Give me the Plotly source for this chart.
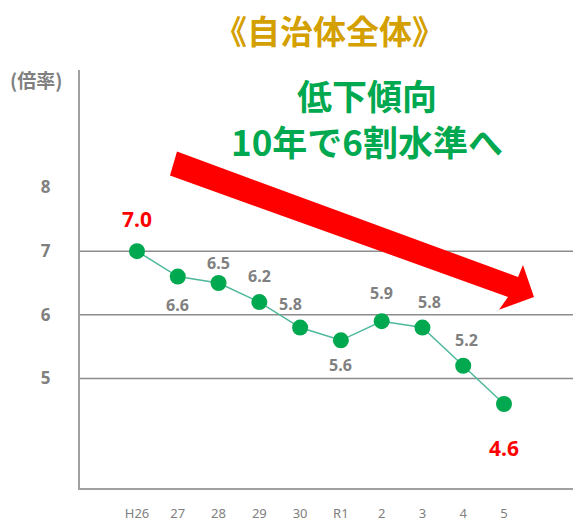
import plotly.graph_objects as go

categories = ["H26", "27", "28", "29", "30", "R1", "2", "3", "4", "5"]
values = [7.0, 6.6, 6.5, 6.2, 5.8, 5.6, 5.9, 5.8, 5.2, 4.6]
labels = ["7.0", "6.6", "6.5", "6.2", "5.8", "5.6", "5.9", "5.8", "5.2", "4.6"]
y_ticks = [5, 6, 7, 8]
grid_values = [5, 6, 7]

title_text = "《自治体全体》"
unit_text = "(倍率)"
callout_lines = ["低下傾向", "10年で6割水準へ"]

# label placement (layout only)
label_yshift = [32, -28, 20, 26, 24, -25, 28, 26, 26, -44]
label_xshift = [0, 0, 0, 0, -10, 0, 0, 7, 3, 0]
highlight = [True, False, False, False, False, False, False, False, False, True]

OFF = 8  # page body margin
W, H = 581 - OFF, 522 - OFF
PL, PT, PR, PB = 80, 70, 581, 490  # plot area in screen pixels
L, T = PL - OFF, PT - OFF
R, B = 581 - PR, 522 - PB
plot_w = PR - PL
plot_h = PB - PT

fig = go.Figure()
fig.add_trace(go.Scatter(
    x=list(range(len(categories))), y=values, mode="lines+markers",
    line=dict(color="#4DB89A", width=1.5),
    marker=dict(color="#00A84F", size=16, line=dict(width=0)),
    hoverinfo="skip", showlegend=False,
))

for i, (v, lab) in enumerate(zip(values, labels)):
    red = highlight[i]
    fig.add_annotation(
        x=i, y=v, xref="x", yref="y", text=f"<b>{lab}</b>", showarrow=False,
        yshift=label_yshift[i], xshift=label_xshift[i],
        xanchor="center", yanchor="middle",
        font=dict(family="Noto Sans, DejaVu Sans, sans-serif",
                  size=21 if red else 16, color="#FF0000" if red else "#808080"),
    )

for g in grid_values:
    fig.add_shape(type="line", xref="paper", yref="y", x0=0, x1=1, y0=g, y1=g,
                  line=dict(color="#8C8C8C", width=1.5), layer="below")

# red trend arrow (screen pixel geometry -> paper coords)
def px(x, y):
    return ((x - PL) / plot_w, (PB - y) / plot_h)

arrow_px = [(177, 152), (518, 278), (523, 266), (534, 298), (499, 311), (508, 298), (170, 176)]
pts = [px(x, y) for x, y in arrow_px]
path = "M " + " L ".join(f"{a:.4f},{b:.4f}" for a, b in pts) + " Z"
fig.add_shape(type="path", xref="paper", yref="paper", path=path,
              fillcolor="#FF0000", line=dict(width=0))

def text_at(sx, sy, text, size, color):
    fig.add_annotation(x=px(sx, 0)[0], y=px(0, sy)[1], xref="paper", yref="paper",
                       text=text, showarrow=False, xanchor="center", yanchor="middle",
                       align="center", borderpad=0,
                       font=dict(family="Noto Sans CJK JP", size=size, color=color))

text_at(329, 30, f"<b>{title_text}</b>", 33, "#D4A000")
text_at(36, 80, f"<b>{unit_text}</b>", 19, "#808080")
text_at(367, 118, "<br>".join(f"<b>{s}</b>" for s in callout_lines), 35, "#00A84F")

x0 = 137
dx = (504 - 137) / 9
fig.update_layout(
    width=W, height=H, margin=dict(l=L, r=R, t=T, b=B, pad=0),
    paper_bgcolor="white", plot_bgcolor="white",
    xaxis=dict(
        range=[-(x0 - PL) / dx, 9 + (PR - 504) / dx],
        tickvals=list(range(len(categories))), ticktext=categories,
        showgrid=False, zeroline=False, showline=True, linecolor="#A0A0A0", linewidth=2,
        ticks="outside", ticklen=12, tickcolor="rgba(0,0,0,0)",
        tickfont=dict(family="Noto Sans, DejaVu Sans, sans-serif", size=13, color="#808080"),
    ),
    yaxis=dict(
        range=[5 - (PB - 380) / 64, 7 + (252 - PT) / 64],
        tickvals=y_ticks, ticktext=[str(t) for t in y_ticks],
        showgrid=False, zeroline=False, showline=True, linecolor="#A0A0A0", linewidth=2,
        ticks="outside", ticklen=24, tickcolor="rgba(0,0,0,0)",
        tickfont=dict(family="Noto Sans, DejaVu Sans, sans-serif", size=17, color="#808080", weight="bold"),
    ),
)

fig.write_html("out.html")
